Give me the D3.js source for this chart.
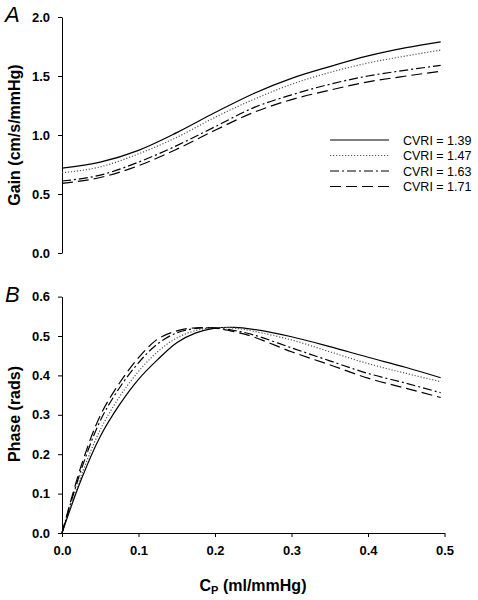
<!DOCTYPE html>
<html><head><meta charset="utf-8">
<script src="https://cdn.jsdelivr.net/npm/d3@7"></script>
<style>body{margin:0;background:#fff}svg{display:block;font-family:Arial,"Liberation Sans",sans-serif}</style>
</head><body>
<script>
const seriesNames = ["CVRI = 1.39","CVRI = 1.47","CVRI = 1.63","CVRI = 1.71"];
const dashes = [null,"1.2,1.8","9,3,2,3","11,5"];
const strokes = ["#000","#555","#000","#000"];

const gainX = [0,0.05,0.1,0.15,0.2,0.25,0.3,0.35,0.4,0.45,0.495];
const gain139 = [0.72,0.77,0.87,1.02,1.19,1.35,1.48,1.58,1.67,1.74,1.79];
const gain147 = [0.68,0.73,0.84,0.98,1.15,1.30,1.43,1.53,1.61,1.67,1.72];
const gain163 = [0.61,0.66,0.77,0.91,1.07,1.23,1.34,1.43,1.50,1.55,1.59];
const gain171 = [0.59,0.64,0.74,0.88,1.04,1.19,1.30,1.38,1.45,1.50,1.54];

const phaseX = [0,0.025,0.05,0.075,0.1,0.125,0.15,0.175,0.2,0.225,0.25,0.3,0.35,0.4,0.45,0.495];
const phase139 = [0,0.135,0.245,0.325,0.39,0.44,0.483,0.508,0.52,0.522,0.517,0.498,0.473,0.446,0.42,0.394];
const phase147 = [0,0.145,0.262,0.345,0.41,0.46,0.495,0.514,0.521,0.52,0.512,0.49,0.46,0.43,0.405,0.384];
const phase163 = [0,0.16,0.285,0.368,0.432,0.48,0.508,0.519,0.52,0.514,0.503,0.47,0.437,0.405,0.38,0.356];
const phase171 = [0,0.17,0.298,0.38,0.445,0.492,0.513,0.521,0.52,0.511,0.498,0.46,0.427,0.393,0.367,0.344];

const gainTicks = [0,0.5,1.0,1.5,2.0];
const phaseTicks = [0,0.1,0.2,0.3,0.4,0.5,0.6];
const xTicks = [0,0.1,0.2,0.3,0.4,0.5];

const gainSeries = [gain139,gain147,gain163,gain171];
const phaseSeries = [phase139,phase147,phase163,phase171];

const W=478,H=600;
const svg = d3.select("body").append("svg").attr("width",W).attr("height",H);

const x = d3.scaleLinear().domain([0,0.5]).range([62,444.5]);
const yA = d3.scaleLinear().domain([0,2]).range([253,17]);
const yB = d3.scaleLinear().domain([0,0.6]).range([533,296.6]);

const fmt = d3.format(".1f");
function styleAxis(g){
  g.selectAll("path.domain").attr("stroke","#000").attr("stroke-width",1);
  g.selectAll(".tick line").attr("stroke","#000");
  g.selectAll("text").attr("font-size",13).attr("font-weight","bold").attr("fill","#000").attr("font-family","Arial, 'Liberation Sans', sans-serif");
}
svg.append("g").attr("transform","translate(62,0)")
  .call(d3.axisLeft(yA).tickValues(gainTicks).tickFormat(fmt).tickSize(4).tickSizeOuter(0).tickPadding(8))
  .call(styleAxis);
svg.append("g").attr("transform","translate(62,0)")
  .call(d3.axisLeft(yB).tickValues(phaseTicks).tickFormat(fmt).tickSize(4).tickSizeOuter(0).tickPadding(8))
  .call(styleAxis);
svg.append("g").attr("transform","translate(0,533)")
  .call(d3.axisBottom(x).tickValues(xTicks).tickFormat(fmt).tickSize(4).tickSizeOuter(0).tickPadding(9))
  .call(styleAxis);

const lineA = d3.line().x((d,i)=>x(gainX[i])).y(d=>yA(d)).curve(d3.curveMonotoneX);
const lineB = d3.line().x((d,i)=>x(phaseX[i])).y(d=>yB(d)).curve(d3.curveCatmullRom.alpha(0.5));
gainSeries.forEach((s,k)=>{
  svg.append("path").attr("d",lineA(s)).attr("fill","none").attr("stroke",strokes[k])
    .attr("stroke-width",1.2).attr("stroke-dasharray",dashes[k]);
});
phaseSeries.forEach((s,k)=>{
  svg.append("path").attr("d",lineB(s)).attr("fill","none").attr("stroke",strokes[k])
    .attr("stroke-width",1.2).attr("stroke-dasharray",dashes[k]);
});

const legY = [140,155.5,171,186.5];
seriesNames.forEach((n,k)=>{
  svg.append("line").attr("x1",330).attr("x2",389).attr("y1",legY[k]).attr("y2",legY[k])
    .attr("stroke",strokes[k]).attr("stroke-width",1.2).attr("stroke-dasharray",dashes[k]);
  svg.append("text").attr("x",403).attr("y",legY[k]+4.5).attr("font-size",12.5).text(n);
});

svg.append("text").attr("x",5).attr("y",22).attr("font-size",22).attr("font-style","italic").text("A");
svg.append("text").attr("x",5).attr("y",302).attr("font-size",22).attr("font-style","italic").text("B");

svg.append("text").attr("transform","translate(20,135) rotate(-90)").attr("text-anchor","middle")
  .attr("font-size",16).attr("font-weight","bold").text("Gain (cm/s/mmHg)");
svg.append("text").attr("transform","translate(20,414) rotate(-90)").attr("text-anchor","middle")
  .attr("font-size",16).attr("font-weight","bold").text("Phase (rads)");
const xt = svg.append("text").attr("x",253).attr("y",591).attr("text-anchor","middle")
  .attr("font-size",16).attr("font-weight","bold");
xt.append("tspan").text("C");
xt.append("tspan").attr("font-size",11).attr("dy",3).text("P");
xt.append("tspan").attr("dy",-3).text(" (ml/mmHg)");
</script>
</body></html>
